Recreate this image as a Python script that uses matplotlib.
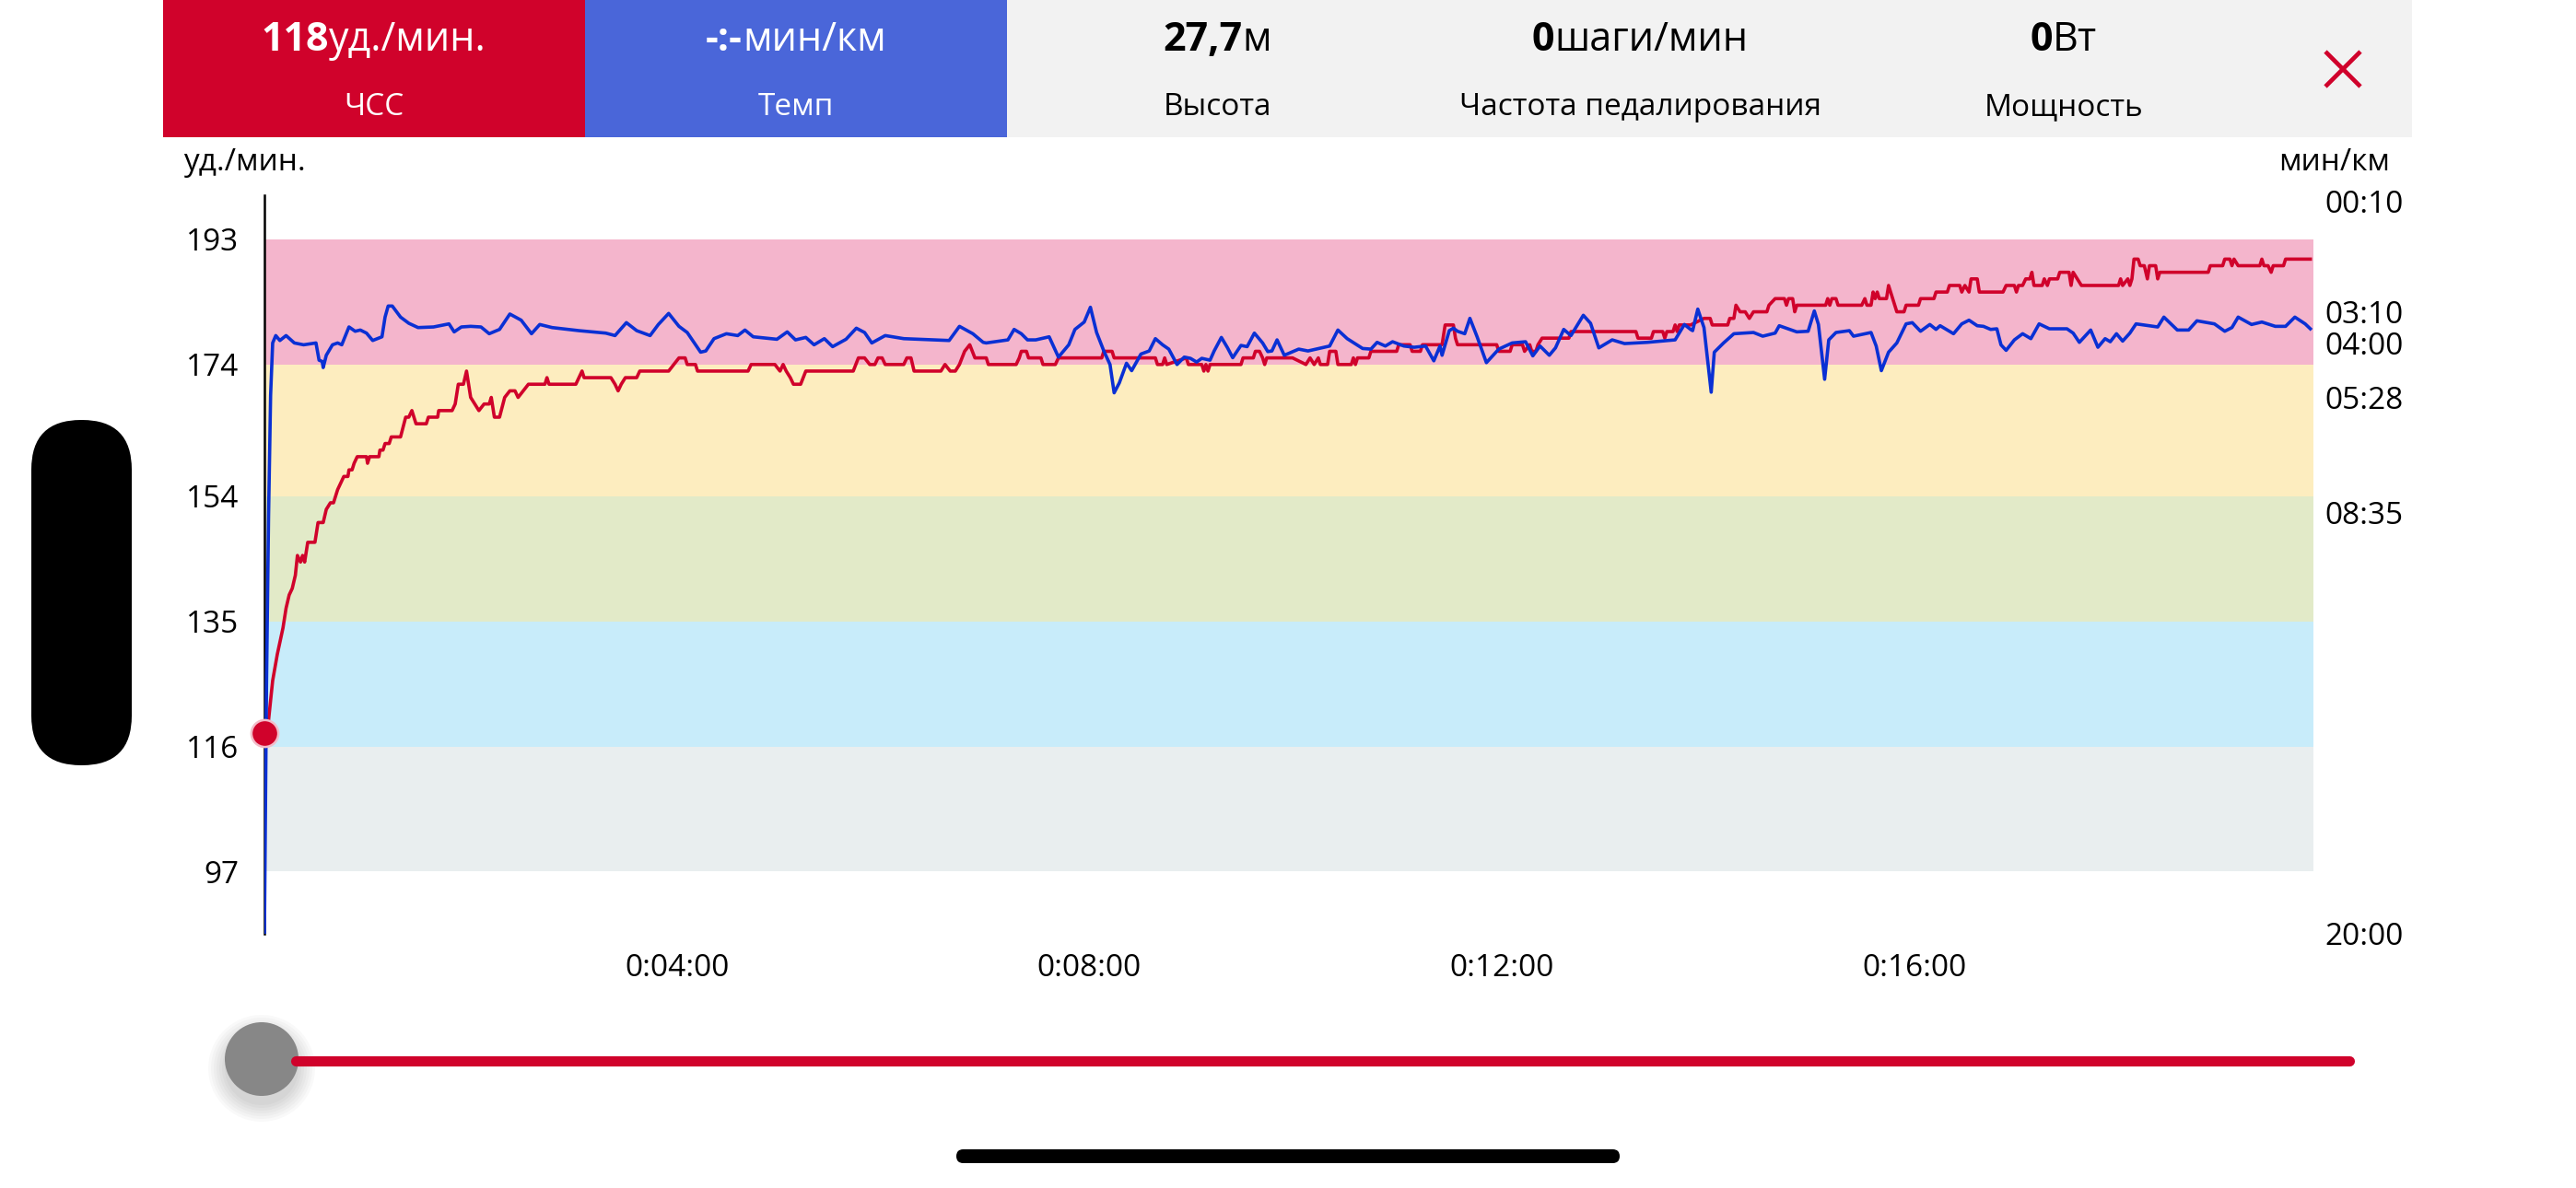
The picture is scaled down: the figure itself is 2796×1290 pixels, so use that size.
import matplotlib
matplotlib.use('Agg')
import matplotlib.pyplot as plt
from matplotlib.patches import Rectangle, FancyBboxPatch, Circle

plt.rcParams['font.family'] = ['Open Sans', 'DejaVu Sans']

W, H = 2796, 1290
RED = '#D0022B'
BLUE_BOX = '#4A66D9'
BLUE_LINE = '#0A30D4'

# heart rate zones, bpm
zone_edges = [97, 116, 135, 154, 174, 193]
zone_colors = ['#E9EEEF', '#C8ECFA', '#E2EAC8', '#FDEDBF', '#F4B5CC']

hr_ticks = [97, 116, 135, 154, 174, 193]
pace_ticks = [10, 190, 240, 328, 515, 1200]   # seconds per km
pace_labels = ['00:10', '03:10', '04:00', '05:28', '08:35', '20:00']
time_ticks = [4, 8, 12, 16]                   # minutes
time_labels = ['0:04:00', '0:08:00', '0:12:00', '0:16:00']

# header: (bold value, unit, caption)
header_items = [
    ('118', 'уд./мин.', 'ЧСС'),
    ('-:-', 'мин/км', 'Темп'),
    ('27,7', 'м', 'Высота'),
    ('0', 'шаги/мин', 'Частота педалирования'),
    ('0', 'Вт', 'Мощность'),
]

# (minute, bpm)
hr_points = [
    (0.00, 118), (0.04, 120), (0.08, 126), (0.125, 130), (0.18, 134), (0.21, 137),
    (0.24, 139), (0.27, 140), (0.30, 142), (0.32, 145), (0.35, 144), (0.37, 145),
    (0.39, 144), (0.42, 147), (0.49, 147), (0.52, 150), (0.57, 150), (0.60, 152),
    (0.64, 153), (0.67, 153), (0.71, 155), (0.74, 156), (0.77, 157), (0.81, 157),
    (0.82, 158), (0.85, 158), (0.87, 159), (0.90, 160), (0.99, 160), (1.00, 159),
    (1.02, 160), (1.11, 160), (1.12, 161), (1.15, 161), (1.17, 162), (1.21, 162),
    (1.23, 163), (1.32, 163), (1.37, 166), (1.40, 166), (1.43, 167), (1.47, 165),
    (1.57, 165), (1.59, 166), (1.68, 166), (1.69, 167), (1.82, 167), (1.85, 168),
    (1.88, 171), (1.93, 171), (1.96, 173), (2.00, 169), (2.08, 167), (2.13, 168),
    (2.18, 168), (2.20, 169), (2.23, 166), (2.28, 166), (2.33, 169), (2.38, 170),
    (2.43, 170), (2.46, 169), (2.56, 171), (2.72, 171), (2.74, 172), (2.76, 171),
    (3.02, 171), (3.08, 173), (3.10, 172), (3.36, 172), (3.40, 171), (3.43, 170),
    (3.46, 171), (3.50, 172), (3.61, 172), (3.64, 173), (3.92, 173), (3.97, 174),
    (4.02, 175), (4.08, 175), (4.10, 174), (4.18, 174), (4.20, 173), (4.69, 173),
    (4.72, 174), (4.95, 174), (5.00, 173), (5.03, 174), (5.06, 173), (5.10, 172),
    (5.13, 171), (5.20, 171), (5.25, 173), (5.71, 173), (5.76, 175), (5.82, 175),
    (5.87, 174), (5.92, 174), (5.95, 175), (5.99, 175), (6.02, 174), (6.20, 174),
    (6.23, 175), (6.27, 175), (6.30, 173), (6.56, 173), (6.60, 174), (6.65, 173),
    (6.70, 173), (6.74, 174), (6.79, 176), (6.84, 177), (6.89, 175), (7.00, 175),
    (7.02, 174), (7.29, 174), (7.32, 175), (7.34, 176), (7.39, 176), (7.41, 175),
    (7.53, 175), (7.55, 174), (7.67, 174), (7.70, 175), (8.12, 175), (8.14, 176),
    (8.22, 176), (8.24, 175), (8.64, 175), (8.66, 174), (8.71, 174), (8.73, 175),
    (8.75, 174), (8.94, 175), (8.96, 174), (9.09, 174), (9.11, 173), (9.13, 174),
    (9.15, 173), (9.17, 174), (9.47, 174), (9.49, 175), (9.59, 175), (9.61, 176),
    (9.65, 176), (9.68, 175), (9.70, 174), (9.72, 175), (9.97, 175), (10.10, 174),
    (10.14, 175), (10.18, 174), (10.22, 175), (10.24, 174), (10.31, 174), (10.33, 176),
    (10.39, 176), (10.41, 174), (10.54, 174), (10.56, 175), (10.58, 174), (10.60, 175),
    (10.71, 175), (10.73, 176), (10.98, 176), (11.00, 177), (11.11, 177), (11.13, 176),
    (11.21, 176), (11.23, 177), (11.42, 177), (11.45, 180), (11.53, 180), (11.55, 178),
    (11.57, 177), (11.95, 177), (11.97, 176), (12.08, 176), (12.10, 177), (12.20, 177),
    (12.22, 176), (12.27, 177), (12.29, 176), (12.33, 176), (12.35, 177), (12.39, 178),
    (12.65, 178), (12.67, 179), (13.30, 179), (13.32, 178), (13.45, 178), (13.47, 179),
    (13.56, 179), (13.58, 178), (13.60, 179), (13.66, 179), (13.68, 180), (13.70, 179),
    (13.72, 180), (13.83, 180), (13.96, 181), (14.02, 181), (14.04, 180), (14.19, 180),
    (14.21, 181), (14.25, 181), (14.27, 183), (14.31, 182), (14.36, 182), (14.40, 181),
    (14.44, 182), (14.57, 182), (14.59, 183), (14.65, 184), (14.74, 184), (14.76, 183),
    (14.78, 184), (14.82, 184), (14.84, 182), (14.86, 183), (15.14, 183), (15.16, 184),
    (15.18, 183), (15.20, 184), (15.24, 184), (15.26, 183), (15.49, 183), (15.52, 184),
    (15.54, 183), (15.58, 183), (15.60, 185), (15.62, 184), (15.64, 185), (15.66, 184),
    (15.73, 184), (15.75, 186), (15.79, 184), (15.83, 182), (15.90, 182), (15.92, 183),
    (16.04, 183), (16.06, 184), (16.19, 184), (16.21, 185), (16.32, 185), (16.34, 186),
    (16.44, 186), (16.46, 185), (16.49, 186), (16.53, 185), (16.55, 187), (16.61, 187),
    (16.63, 185), (16.86, 185), (16.89, 186), (16.97, 186), (16.99, 185), (17.01, 186),
    (17.05, 186), (17.08, 187), (17.12, 187), (17.14, 188), (17.16, 186), (17.24, 186),
    (17.26, 187), (17.29, 186), (17.31, 187), (17.39, 187), (17.41, 188), (17.50, 188),
    (17.52, 186), (17.54, 188), (17.58, 187), (17.62, 186), (17.98, 186), (18.00, 187),
    (18.02, 186), (18.07, 187), (18.09, 186), (18.11, 187), (18.13, 190), (18.17, 190),
    (18.19, 189), (18.23, 189), (18.26, 187), (18.28, 189), (18.34, 189), (18.36, 187),
    (18.38, 188), (18.85, 188), (18.87, 189), (18.99, 189), (19.01, 190), (19.06, 190),
    (19.08, 189), (19.10, 190), (19.14, 189), (19.35, 189), (19.37, 190), (19.39, 189),
    (19.43, 189), (19.46, 188), (19.48, 189), (19.58, 189), (19.60, 190), (19.84, 190),
]

# (minute, pace in seconds per km)
pace_points = [
    (0.00, 1200), (0.02, 800), (0.04, 523), (0.06, 325), (0.08, 240), (0.11, 228),
    (0.15, 236), (0.21, 228), (0.29, 240), (0.38, 243), (0.50, 240), (0.53, 268),
    (0.56, 270), (0.57, 280), (0.60, 260), (0.66, 243), (0.71, 240), (0.75, 243),
    (0.82, 214), (0.88, 221), (0.93, 219), (0.99, 224), (1.05, 236), (1.14, 230),
    (1.17, 198), (1.20, 180), (1.24, 180), (1.32, 198), (1.40, 208), (1.49, 215),
    (1.64, 214), (1.79, 209), (1.84, 222), (1.91, 214), (2.00, 213), (2.10, 214),
    (2.18, 225), (2.28, 218), (2.38, 193), (2.49, 203), (2.59, 225), (2.67, 210),
    (2.79, 215), (3.05, 220), (3.31, 224), (3.40, 228), (3.51, 207), (3.61, 220),
    (3.74, 228), (3.82, 210), (3.92, 192), (4.02, 213), (4.10, 223), (4.23, 255),
    (4.28, 253), (4.36, 233), (4.48, 225), (4.59, 228), (4.66, 219), (4.74, 230),
    (4.97, 234), (5.07, 222), (5.15, 235), (5.25, 231), (5.33, 243), (5.43, 233),
    (5.51, 246), (5.64, 234), (5.74, 216), (5.82, 223), (5.89, 240), (6.02, 228),
    (6.20, 233), (6.64, 236), (6.74, 213), (6.87, 225), (6.97, 239), (7.00, 240),
    (7.21, 235), (7.27, 218), (7.34, 225), (7.40, 235), (7.48, 235), (7.61, 230),
    (7.70, 263), (7.80, 243), (7.86, 218), (7.95, 206), (8.01, 182), (8.07, 223),
    (8.14, 253), (8.20, 275), (8.24, 321), (8.29, 305), (8.36, 273), (8.41, 285),
    (8.50, 258), (8.58, 253), (8.64, 233), (8.71, 243), (8.77, 250), (8.85, 275),
    (8.92, 263), (8.98, 265), (9.04, 271), (9.09, 265), (9.17, 268), (9.21, 253),
    (9.28, 231), (9.34, 248), (9.39, 264), (9.47, 244), (9.53, 246), (9.60, 224),
    (9.68, 240), (9.73, 254), (9.77, 253), (9.82, 235), (9.89, 260), (10.03, 250),
    (10.12, 253), (10.33, 245), (10.41, 219), (10.50, 233), (10.65, 249), (10.73, 250),
    (10.79, 239), (10.87, 245), (10.94, 238), (11.05, 245), (11.15, 247), (11.26, 245),
    (11.34, 269), (11.40, 245), (11.42, 260), (11.49, 220), (11.53, 216), (11.57, 221),
    (11.64, 225), (11.69, 200), (11.76, 230), (11.85, 272), (11.97, 250), (12.10, 240),
    (12.23, 238), (12.30, 261), (12.37, 245), (12.46, 260), (12.52, 248), (12.60, 218),
    (12.67, 228), (12.79, 195), (12.86, 208), (12.94, 248), (13.07, 235), (13.19, 241),
    (13.41, 239), (13.61, 236), (13.68, 235), (13.77, 210), (13.83, 218), (13.85, 220),
    (13.90, 185), (13.96, 215), (14.03, 320), (14.06, 255), (14.15, 240), (14.25, 225),
    (14.44, 223), (14.53, 229), (14.65, 224), (14.69, 212), (14.86, 222), (14.97, 221),
    (15.03, 188), (15.07, 210), (15.13, 299), (15.17, 235), (15.24, 223), (15.37, 220),
    (15.41, 229), (15.58, 223), (15.63, 245), (15.68, 285), (15.75, 255), (15.83, 240),
    (15.92, 209), (15.98, 207), (16.06, 221), (16.15, 210), (16.21, 218), (16.25, 212),
    (16.38, 225), (16.46, 209), (16.53, 203), (16.61, 212), (16.67, 213), (16.74, 218),
    (16.80, 217), (16.84, 243), (16.89, 252), (16.97, 235), (17.05, 225), (17.13, 233),
    (17.21, 209), (17.31, 217), (17.48, 217), (17.54, 224), (17.60, 239), (17.71, 219),
    (17.78, 247), (17.85, 233), (17.90, 238), (17.96, 225), (18.02, 237), (18.09, 224),
    (18.15, 209), (18.36, 214), (18.42, 198), (18.55, 219), (18.66, 219), (18.74, 204),
    (18.91, 209), (19.01, 221), (19.08, 215), (19.14, 198), (19.27, 210), (19.37, 206),
    (19.50, 213), (19.60, 213), (19.69, 198), (19.79, 209), (19.84, 217),
]

hr_time, hr_bpm = zip(*hr_points)
pace_time, pace_sec = zip(*pace_points)

fig = plt.figure(figsize=(W / 100, H / 100), dpi=100)
fig.patch.set_facecolor('white')

# pixel-space overlay for the app chrome
bg = fig.add_axes([0, 0, 1, 1], zorder=0)
bg.set_xlim(0, W)
bg.set_ylim(H, 0)
bg.axis('off')

# header boxes
bg.add_patch(Rectangle((177, 0), 458, 149, color=RED, lw=0))
bg.add_patch(Rectangle((635, 0), 458, 149, color=BLUE_BOX, lw=0))
bg.add_patch(Rectangle((1093, 0), 1525, 149, color='#F2F2F2', lw=0))

renderer = fig.canvas.get_renderer()


def header_value(cx, bold, rest, color):
    t1 = bg.text(0, 55, bold, fontsize=31, fontweight='bold', color=color, va='baseline')
    t2 = bg.text(0, 55, rest, fontsize=31, color=color, va='baseline')
    w1 = t1.get_window_extent(renderer).width
    w2 = t2.get_window_extent(renderer).width
    x0 = cx - (w1 + w2) / 2
    t1.set_x(x0)
    t2.set_x(x0 + w1)


header_x = [406, 864, 1321, 1780, 2240]
for i, (bold, unit, caption) in enumerate(header_items):
    col = 'white' if i < 2 else 'black'
    header_value(header_x[i], bold, unit, col)
    bg.text(header_x[i], 125, caption, fontsize=24, color=col, ha='center', va='baseline')

# close cross
bg.plot([2524, 2562], [56, 94], color=RED, lw=3.4, solid_capstyle='butt')
bg.plot([2524, 2562], [94, 56], color=RED, lw=3.4, solid_capstyle='butt')

# axis units
bg.text(265, 185, 'уд./мин.', fontsize=24, ha='center', va='baseline')
bg.text(2534, 185, 'мин/км', fontsize=24, ha='center', va='baseline')

# left pill and home indicator
bg.add_patch(FancyBboxPatch((34, 456), 109, 375, boxstyle='round,pad=0,rounding_size=54',
                            color='black', lw=0))
bg.add_patch(FancyBboxPatch((1038, 1248), 720, 15, boxstyle='round,pad=0,rounding_size=7.5',
                            color='black', lw=0))

# slider
bg.plot([321, 2550], [1152, 1152], color=RED, lw=8, solid_capstyle='round')
for i in range(7):
    bg.add_patch(Circle((284, 1160), 40 + 3 * i, color='black', alpha=0.025, lw=0))
bg.add_patch(Circle((284, 1150), 40, color='#878787', lw=0))

# chart
ax = fig.add_axes([287 / W, 1 - 1014 / H, (2511 - 287) / W, (1014 - 212) / H], zorder=1)
ax.patch.set_alpha(0)
ax.set_xlim(0, 19.87)
ax.set_ylim(87.55, 199.7)

for lo, hi, c in zip(zone_edges[:-1], zone_edges[1:], zone_colors):
    ax.axhspan(lo, hi, color=c, lw=0, zorder=0)

ax.plot(hr_time, hr_bpm, color=RED, lw=2.6, zorder=3, solid_joinstyle='round')

ax.set_yticks(hr_ticks)
ax.set_xticks(time_ticks)
ax.set_xticklabels(time_labels)
ax.tick_params(axis='y', length=0, pad=20, labelsize=24)
ax.tick_params(axis='x', length=0, pad=15, labelsize=24)
for s in ['top', 'right', 'bottom']:
    ax.spines[s].set_visible(False)
ax.spines['left'].set_color('black')
ax.spines['left'].set_linewidth(1.8)

ax2 = ax.twinx()
ax2.set_zorder(2)
ax2.set_ylim(1200, 0)
ax2.plot(pace_time, pace_sec, color=BLUE_LINE, lw=2.6, zorder=4, solid_joinstyle='round')
ax2.set_yticks(pace_ticks)
ax2.set_yticklabels(pace_labels)
ax2.tick_params(axis='y', length=0, pad=8.6, labelsize=24)
for s in ax2.spines.values():
    s.set_visible(False)

# current position marker
ax2.plot([hr_time[0]], [hr_bpm[0]], 'o', transform=ax.transData, ms=21,
         mfc=RED, mec='#F3BCC9', mew=1.8, clip_on=False, zorder=6)
ax2.set_xlim(0, 19.87)
ax2.set_ylim(1200, 0)

fig.savefig('out.png', dpi=100)
